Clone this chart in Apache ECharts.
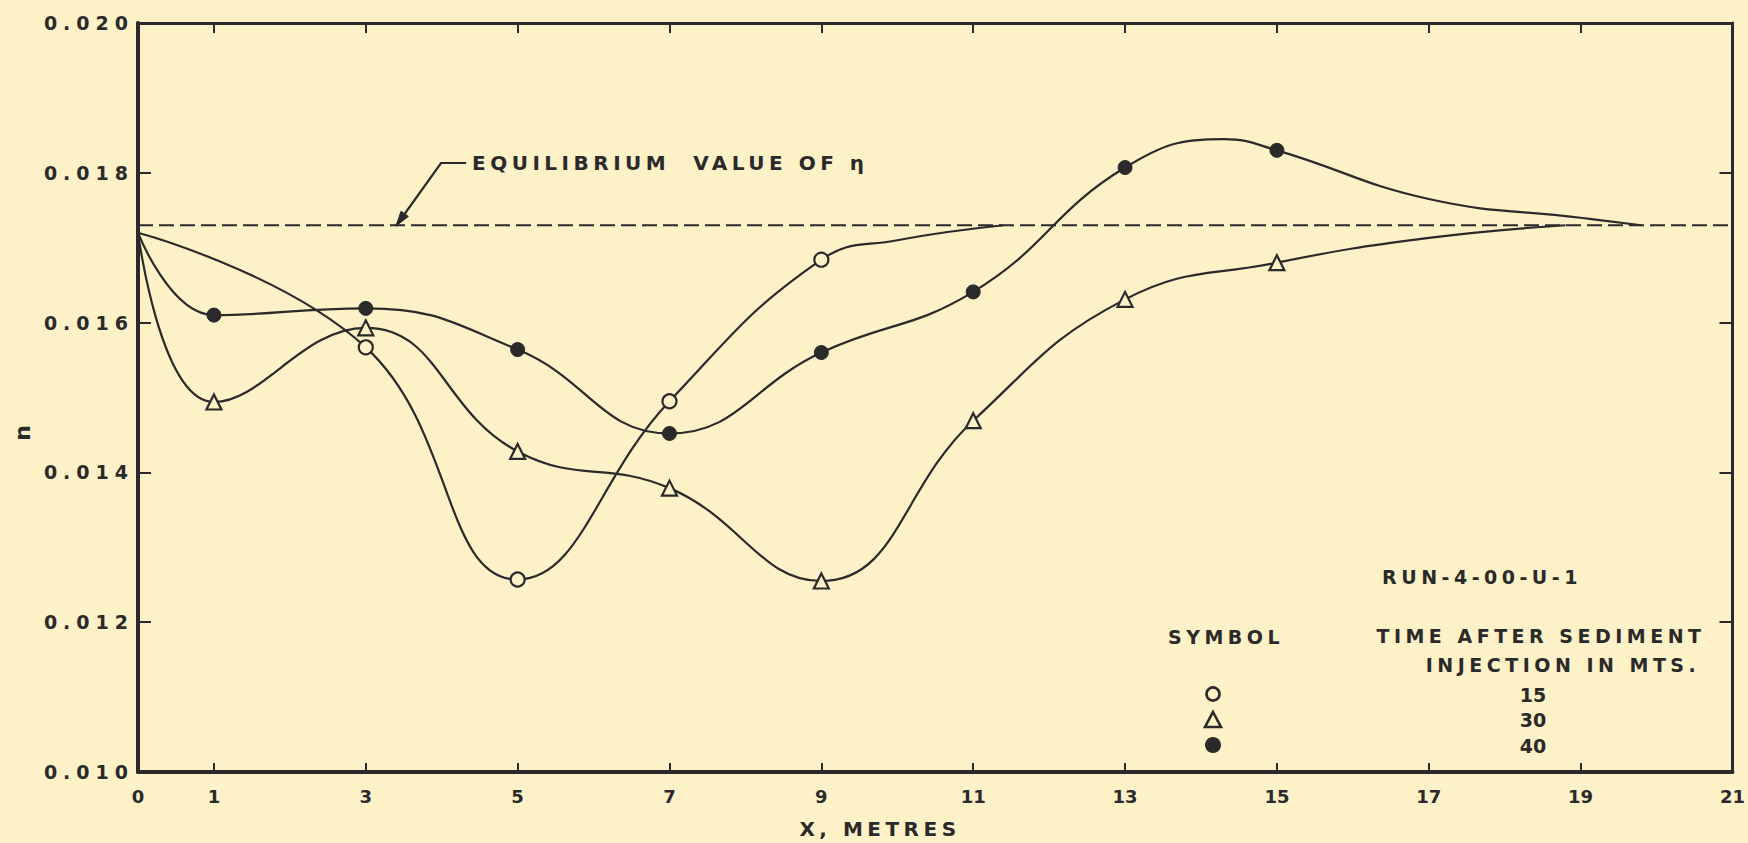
<!DOCTYPE html>
<html>
<head>
<meta charset="utf-8">
<script src="https://cdn.jsdelivr.net/npm/echarts@6/dist/echarts.min.js"></script>
<style>
html,body{margin:0;padding:0;background:#FCF1C7;}
#chart{width:1748px;height:843px;}
#chart text{letter-spacing:4.5px;}
</style>
</head>
<body>
<div id="chart"></div>
<script>
// ---------------- data ----------------
const xLabelValues = [0, 1, 3, 5, 7, 9, 11, 13, 15, 17, 19, 21];
const xTickValues = [1, 3, 5, 7, 9, 11, 13, 15, 17, 19];
const yTickValues = [0.012, 0.014, 0.016, 0.018];
const equilibriumValue = 0.0173;

// 15 minutes (open circles): plotted points
const t15X = [3, 5, 7, 9];
const t15Y = [0.01567, 0.01257, 0.01495, 0.01684];
// points (no symbol)
const t15CurveX = [0, 10, 11.4];
const t15CurveY = [0.0172, 0.01710, 0.0173];

// 30 minutes (triangles)
const t30X = [1, 3, 5, 7, 9, 11, 13, 15];
const t30Y = [0.01494, 0.01593, 0.01428, 0.01379, 0.01255, 0.01469, 0.01631, 0.01680];
const t30CurveX = [0, 17, 18.8];
const t30CurveY = [0.0172, 0.01713, 0.0173];

// 40 minutes (filled circles)
const t40X = [1, 3, 5, 7, 9, 11, 13, 15];
const t40Y = [0.0161, 0.01619, 0.01564, 0.01452, 0.0156, 0.01641, 0.01807, 0.0183];
const t40CurveX = [0, 14.3, 17, 19, 19.8];
const t40CurveY = [0.0172, 0.01845, 0.01765, 0.01740, 0.0173];

const legendTimes = ['15', '30', '40'];

// ---------------- styling ----------------
const INK = '#2a2a2a';
const BG = '#FCF1C7';
const FONT = 'DejaVu Sans';

function buildSeriesData(xs, ys, cxs, cys) {
  const pts = xs.map((x, i) => ({ value: [x, ys[i]] }));
  cxs.forEach((x, i) => pts.push({ value: [x, cys[i]], symbol: 'none' }));
  pts.sort((a, b) => a.value[0] - b.value[0]);
  return pts;
}

const chart = echarts.init(document.getElementById('chart'), null, { renderer: 'svg' });

const lineBase = {
  type: 'line',
  smooth: 0.45,
  animation: false,
  lineStyle: { color: INK, width: 2.2 },
  emphasis: { disabled: true }
};

// leader line for the annotation
const tip = [396, 226], corner = [441, 163], dashEnd = [466, 163];
const dx = tip[0] - corner[0], dy = tip[1] - corner[1];
const len = Math.hypot(dx, dy), ux = dx / len, uy = dy / len;
const ah = 15, aw = 4.5;
const bx = tip[0] - ah * ux, by = tip[1] - ah * uy;
const arrowPts = [tip, [bx + aw * uy, by - aw * ux], [bx - aw * uy, by + aw * ux]];

function txt(text, x, y, size, align) {
  return {
    type: 'text', x: x, y: y, silent: true,
    style: { text: text, fill: INK, font: 'bold ' + size + 'px "' + FONT + '"', textAlign: align || 'center', textVerticalAlign: 'middle' }
  };
}

const graphics = [
  txt('EQUILIBRIUM  VALUE OF η', 472, 163, 20, 'left'),
  { type: 'polyline', silent: true, shape: { points: [dashEnd, corner, tip] }, style: { stroke: INK, lineWidth: 2.2, fill: null } },
  { type: 'polygon', silent: true, shape: { points: arrowPts }, style: { fill: INK, stroke: INK, lineWidth: 1 } },
  txt('X, METRES', 880, 829, 20),
  { type: 'text', x: 22, y: 433, rotation: Math.PI / 2, silent: true,
    style: { text: 'n', fill: INK, font: 'bold 22px "' + FONT + '"', textAlign: 'center', textVerticalAlign: 'middle' } },
  txt('RUN-4-00-U-1', 1482, 577, 19),
  txt('SYMBOL', 1226, 637, 19),
  txt('TIME AFTER SEDIMENT', 1541, 636, 19),
  txt('INJECTION IN MTS.', 1563, 665, 19),
  txt(legendTimes[0], 1533, 695, 19),
  txt(legendTimes[1], 1533, 720, 19),
  txt(legendTimes[2], 1533, 746, 19),
  { type: 'circle', silent: true, shape: { cx: 1213, cy: 694, r: 6.5 }, style: { fill: BG, stroke: INK, lineWidth: 2.6 } },
  { type: 'polygon', silent: true, shape: { points: [[1213, 712], [1221, 727], [1205, 727]] }, style: { fill: BG, stroke: INK, lineWidth: 2.6 } },
  { type: 'circle', silent: true, shape: { cx: 1213, cy: 745, r: 8 }, style: { fill: INK } }
];

const labelFont = { color: INK, fontFamily: FONT, fontWeight: 'bold' };

const option = {
  backgroundColor: BG,
  animation: false,
  textStyle: { fontFamily: FONT, color: INK },
  grid: { left: 138, right: 13, top: 23, bottom: 71, containLabel: false },
  xAxis: [
    {
      type: 'value', min: 0, max: 21, position: 'bottom',
      axisLine: { show: true, onZero: false, lineStyle: { color: INK, width: 4 } },
      axisTick: { show: true, inside: true, length: 9, customValues: xTickValues, lineStyle: { color: INK, width: 2 } },
      axisLabel: Object.assign({ customValues: xLabelValues, fontSize: 18, margin: 15 }, labelFont),
      splitLine: { show: false }
    },
    {
      type: 'value', min: 0, max: 21, position: 'top',
      axisLine: { show: true, onZero: false, lineStyle: { color: INK, width: 3 } },
      axisTick: { show: true, inside: true, length: 10, customValues: xTickValues, lineStyle: { color: INK, width: 2 } },
      axisLabel: { show: false },
      splitLine: { show: false }
    }
  ],
  yAxis: [
    {
      type: 'value', min: 0.010, max: 0.020, interval: 0.002, position: 'left',
      axisLine: { show: true, onZero: false, lineStyle: { color: INK, width: 4 } },
      axisTick: { show: true, inside: true, length: 13, customValues: yTickValues, lineStyle: { color: INK, width: 2 } },
      axisLabel: Object.assign({ fontSize: 19, margin: 4, formatter: v => v.toFixed(3) }, labelFont),
      splitLine: { show: false }
    },
    {
      type: 'value', min: 0.010, max: 0.020, interval: 0.002, position: 'right',
      axisLine: { show: true, onZero: false, lineStyle: { color: INK, width: 3 } },
      axisTick: { show: true, inside: true, length: 13, customValues: yTickValues, lineStyle: { color: INK, width: 2 } },
      axisLabel: { show: false },
      splitLine: { show: false }
    }
  ],
  series: [
    {
      type: 'line', name: 'Equilibrium', animation: false, symbol: 'none', z: 1,
      data: [[0, equilibriumValue], [21, equilibriumValue]],
      lineStyle: { color: INK, width: 2, type: [15, 6] }
    },
    Object.assign({}, lineBase, {
      name: '15', z: 3,
      data: buildSeriesData(t15X, t15Y, t15CurveX, t15CurveY),
      symbol: 'circle', symbolSize: 14,
      itemStyle: { color: BG, borderColor: INK, borderWidth: 2.2 }
    }),
    Object.assign({}, lineBase, {
      name: '30', z: 3,
      data: buildSeriesData(t30X, t30Y, t30CurveX, t30CurveY),
      symbol: 'triangle', symbolSize: 15,
      itemStyle: { color: BG, borderColor: INK, borderWidth: 2.2 }
    }),
    Object.assign({}, lineBase, {
      name: '40', z: 3,
      data: buildSeriesData(t40X, t40Y, t40CurveX, t40CurveY),
      symbol: 'circle', symbolSize: 14,
      itemStyle: { color: INK, borderColor: INK, borderWidth: 1 }
    })
  ],
  graphic: graphics
};

chart.setOption(option);

function applySpacing() {
  document.querySelectorAll('#chart text').forEach(t => {
    const s = (t.textContent || '').trim();
    let sp = null;
    if (/^0\.0\d\d$/.test(s)) sp = '6px';
    else if (/^\d+$/.test(s) || s === 'n') sp = '0px';
    if (sp !== null) t.style.letterSpacing = sp;
  });
}
applySpacing();
chart.on('finished', applySpacing);
</script>
</body>
</html>
